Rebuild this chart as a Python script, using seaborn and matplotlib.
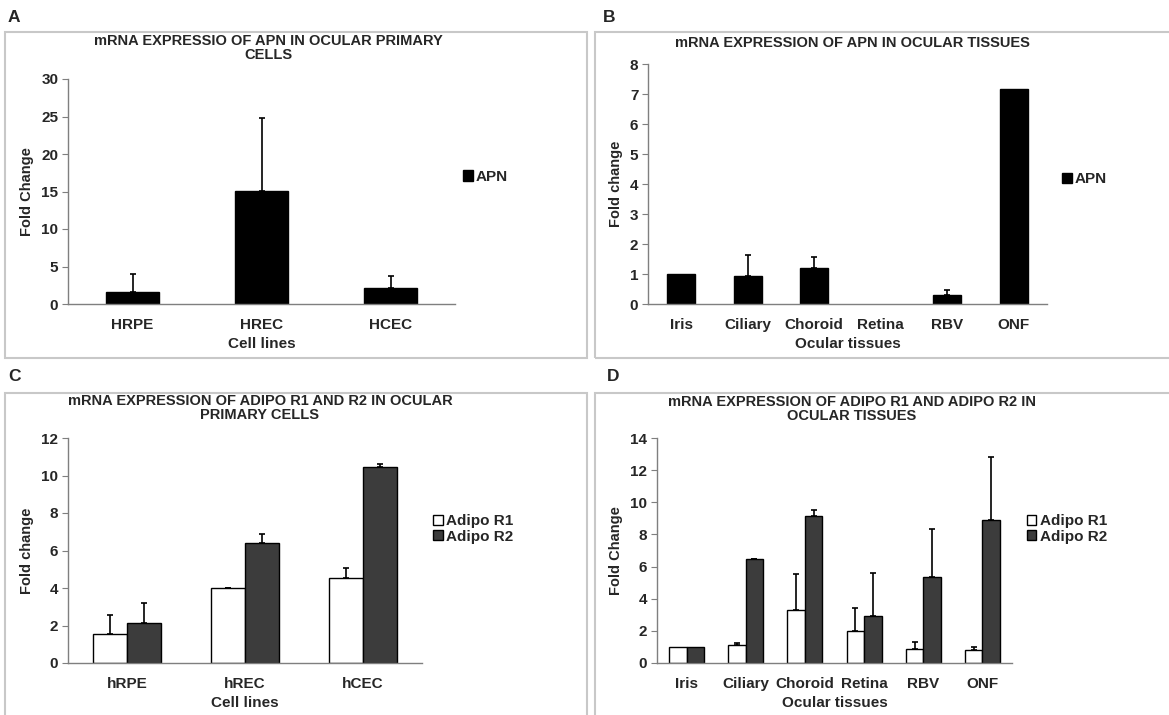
import matplotlib
matplotlib.use("Agg")
import matplotlib.pyplot as plt
import seaborn as sns
import pandas as pd
from matplotlib.patches import Rectangle

sns.set_style("ticks")
plt.rcParams['font.family'] = ['Liberation Sans', 'DejaVu Sans']
plt.rcParams['font.weight'] = 'bold'
plt.rcParams['axes.labelweight'] = 'bold'

# ---- data ----
cells_a = ['HRPE', 'HREC', 'HCEC']
apn_cells = [1.65, 15.1, 2.2]
apn_cells_err = [2.35, 9.65, 1.5]

tissues = ['Iris', 'Ciliary', 'Choroid', 'Retina', 'RBV', 'ONF']
apn_tissues = [1.0, 0.93, 1.21, 0.0, 0.29, 7.18]
apn_tissues_err = [0.0, 0.7, 0.37, 0.0, 0.18, 0.0]

cells_c = ['hRPE', 'hREC', 'hCEC']
r1_cells = [1.55, 3.98, 4.53]
r1_cells_err = [1.03, 0.04, 0.54]
r2_cells = [2.12, 6.4, 10.44]
r2_cells_err = [1.08, 0.5, 0.17]

r1_tissues = [1.0, 1.14, 3.32, 2.01, 0.85, 0.81]
r1_tissues_err = [0.0, 0.1, 2.22, 1.41, 0.46, 0.17]
r2_tissues = [1.0, 6.47, 9.17, 2.95, 5.35, 8.92]
r2_tissues_err = [0.0, 0.02, 0.37, 2.65, 2.99, 3.92]

W, H = 1169, 715
fig = plt.figure(figsize=(W / 100, H / 100), dpi=100)

FS = 11


def px_axes(left, top, right, bottom):
    return fig.add_axes([left / W, 1 - bottom / H, (right - left) / W, (bottom - top) / H])


def long_df(cats, series):
    rows = []
    for name, vals in series:
        for c, v in zip(cats, vals):
            rows.append({'cat': c, 'series': name, 'value': v})
    return pd.DataFrame(rows)


def panel(ax, cats, series, errs, colors, width, ylim, ystep, ylabel, xlabel, leg_anchor):
    df = long_df(cats, series)
    sns.barplot(data=df, x='cat', y='value', hue='series', palette=colors,
                width=width, gap=0, errorbar=None, edgecolor='black',
                linewidth=1.0, saturation=1, ax=ax)
    for cont, err in zip(ax.containers, errs):
        pts = [(b.get_x() + b.get_width() / 2, b.get_height(), e)
               for b, e in zip(cont, err) if e > 0]
        for b in cont:
            if b.get_height() == 0:
                b.set_visible(False)
        if pts:
            xs, ys, es = zip(*pts)
            ax.errorbar(xs, ys, yerr=[[0] * len(es), list(es)], fmt='none', ecolor='black',
                        elinewidth=1.2, capsize=2.5, capthick=1.2, zorder=1)
    ax.set_xlim(-0.5, len(cats) - 0.5)
    ax.set_ylim(0, ylim)
    ax.set_yticks(range(0, ylim + 1, ystep))
    sns.despine(ax=ax)
    for s in ('left', 'bottom'):
        ax.spines[s].set_color('#7f7f7f')
        ax.spines[s].set_linewidth(1.0)
    ax.tick_params(axis='y', length=4, color='#7f7f7f', labelsize=FS, pad=3)
    ax.tick_params(axis='x', length=0, labelsize=FS, pad=10)
    for t in ax.get_xticklabels() + ax.get_yticklabels():
        t.set_fontweight('bold')
    ax.set_ylabel(ylabel, fontsize=FS - 0.5, labelpad=5)
    ax.set_xlabel(xlabel, fontsize=FS, labelpad=4)
    handles, labels = ax.get_legend_handles_labels()
    ax.legend(handles, labels, loc='center left', bbox_to_anchor=leg_anchor, frameon=False,
              handlelength=0.65, handleheight=0.65, handletextpad=0.2, labelspacing=0.1,
              borderpad=0, borderaxespad=0, prop={'weight': 'bold', 'size': FS})


# panel frames
for (x0, y0, x1, y1) in [(5, 32, 587, 358), (595, 32, 1175, 358),
                         (5, 393, 587, 720), (595, 393, 1175, 720)]:
    fig.patches.append(Rectangle((x0 / W, 1 - y1 / H), (x1 - x0) / W, (y1 - y0) / H,
                                 transform=fig.transFigure, fill=False,
                                 edgecolor='#c8c8c8', linewidth=1.5))

ax_a = px_axes(68, 79, 455, 304)
panel(ax_a, cells_a, [('APN', apn_cells)], [apn_cells_err], ['black'], 0.41,
      30, 5, 'Fold Change', 'Cell lines', (1.02, 0.565))

ax_b = px_axes(648, 64, 1047, 304)
panel(ax_b, tissues, [('APN', apn_tissues)], [apn_tissues_err], ['black'], 0.42,
      8, 1, 'Fold change', 'Ocular tissues', (1.037, 0.52))

ax_c = px_axes(68, 438, 422, 663)
panel(ax_c, cells_c, [('Adipo R1', r1_cells), ('Adipo R2', r2_cells)],
      [r1_cells_err, r2_cells_err], ['white', '#3c3c3c'], 0.58,
      12, 2, 'Fold change', 'Cell lines', (1.031, 0.596))

ax_d = px_axes(657, 438, 1012, 663)
panel(ax_d, tissues, [('Adipo R1', r1_tissues), ('Adipo R2', r2_tissues)],
      [r1_tissues_err, r2_tissues_err], ['white', '#3c3c3c'], 0.59,
      14, 2, 'Fold Change', 'Ocular tissues', (1.041, 0.596))

# titles
titles = [(268, 48, 'mRNA EXPRESSIO OF APN IN OCULAR PRIMARY\nCELLS'),
          (852, 43, 'mRNA EXPRESSION OF APN IN OCULAR TISSUES'),
          (260, 408, 'mRNA EXPRESSION OF ADIPO R1 AND R2 IN OCULAR\nPRIMARY CELLS'),
          (852, 409, 'mRNA EXPRESSION OF ADIPO R1 AND ADIPO R2 IN\nOCULAR TISSUES')]
for x, y, t in titles:
    fig.text(x / W, 1 - y / H, t, ha='center', va='center', ma='center',
             fontsize=10.5, fontweight='bold', linespacing=1.0)

# panel letters
for x, y, t in [(8, 17, 'A'), (603, 17, 'B'), (8, 377, 'C'), (607, 377, 'D')]:
    fig.text(x / W, 1 - y / H, t, ha='left', va='center', fontsize=12.5, fontweight='bold')

fig.savefig('out.png', dpi=100, facecolor='white')
